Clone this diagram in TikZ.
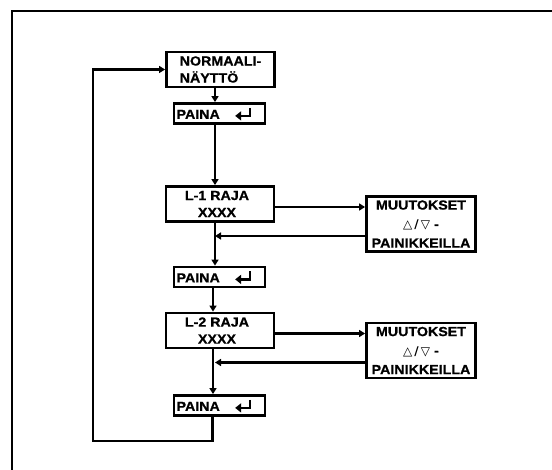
\documentclass[tikz,border=0pt]{standalone}
\usepackage{fontspec}
\newfontfamily\boxfont{Liberation Sans}[FakeStretch=1.08,FakeBold=0.8]
\newfontfamily\symfont{DejaVu Sans}
\usetikzlibrary{arrows.meta}
% return key glyph
\newcommand{\retkey}{\tikz[baseline=0pt,x=1pt,y=1pt]\draw[line width=2.6pt,-{Triangle[length=6pt,width=9pt]}] (15,11)--(15,3)--(0,3);}
\begin{document}
\begin{tikzpicture}[x=1pt, y=-1pt, line join=miter, >={Triangle[length=6pt,width=7pt]},
	box/.style={draw, line width=2.8pt, inner sep=2pt, align=center, font=\boxfont\bfseries\fontsize{13.2}{17}\selectfont},
	con/.style={line width=2.4pt}]
	\useasboundingbox (0,0) rectangle (552,470);
	\draw[line width=2.4pt] (12,470)--(12,11)--(552,11);
	\node[box, minimum width=108pt, minimum height=35pt, align=left] (norm) at (220.5,69.5) {NORMAALI-\\NÄYTTÖ};
	\foreach \nm/\y in {paina1/113.5, paina2/277, paina3/405.5}
	\node[box, minimum width=91pt, minimum height=20pt] (\nm) at (219.5,\y) {PAINA\hspace{14pt}\retkey\hspace*{11pt}};
	\foreach \nm/\t/\y in {raja1/1/204, raja2/2/330.5}
	\node[box, minimum width=108pt, minimum height=35pt] (\nm) at (220,\y) {L-\t\ RAJA\hspace*{6pt}\\XXXX\hspace*{6pt}};
	\foreach \nm/\y in {muut1/224, muut2/350.5}
	\node[box, minimum width=109pt, minimum height=55pt, font=\boxfont\bfseries\fontsize{13.2}{19}\selectfont] (\nm) at (421,\y) {MUUTOKSET\\{\symfont\fontsize{12}{12}\selectfont △\,/\,▽} -\\PAINIKKEILLA};
	\path (215,0) coordinate (spine) (213,0) coordinate (spineb) (93,441) coordinate (loop);
	% main line
	\draw[con,->] (norm.south -| spine)--(paina1.north -| spine);
	\draw[con,->] (paina1.south -| spine)--(raja1.north -| spine);
	\draw[con,->] (raja1.south -| spine)--(paina2.north -| spine);
	\draw[con,->] (paina2.south -| spineb)--(raja2.north -| spineb);
	\draw[con,->] (raja2.south -| spineb)--(paina3.north -| spineb);
	% side loops
	\foreach \r/\m in {raja1/muut1, raja2/muut2}{
		\path ([yshift=-3pt]\r.east) coordinate (\r out) ([yshift=-12pt]\m.west) coordinate (\m back);
		\draw[con,->] (\r out)--(\r out -| \m.west);
		\draw[con,->] (\m back)--(\m back -| spine);
	}
	% back to start
	\draw[con,->] ([xshift=-7pt]paina3.south) |- (loop) |- (norm.west);
\end{tikzpicture}
\end{document}
